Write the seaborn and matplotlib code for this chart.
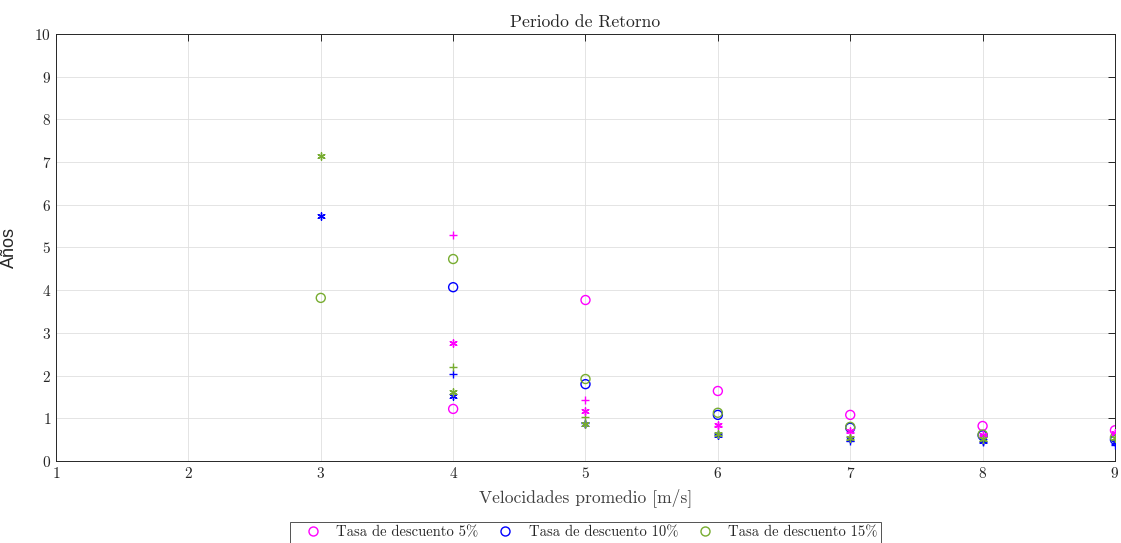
import numpy as np
import pandas as pd
import matplotlib
matplotlib.use('Agg')
import matplotlib.pyplot as plt
import seaborn as sns
from matplotlib.lines import Line2D

# velocidades promedio [m/s]
velocidades = [3, 4, 5, 6, 7, 8, 9]
tasas = ['Tasa de descuento 5%', 'Tasa de descuento 10%', 'Tasa de descuento 15%']
colores = ['#ff00ff', '#0000ff', '#77ac30']

# periodo de retorno [anos], tres casos por tasa (o, +, *)
ret_o_5 = [np.nan, 1.22, 3.77, 1.64, 1.08, 0.82, 0.72]
ret_o_10 = [np.nan, 4.07, 1.80, 1.08, 0.78, 0.60, 0.50]
ret_o_15 = [3.82, 4.73, 1.92, 1.13, 0.80, 0.62, 0.55]

ret_p_5 = [np.nan, 5.29, 1.43, 0.82, 0.68, 0.62, 0.65]
ret_p_10 = [np.nan, 2.04, 0.90, 0.60, 0.48, 0.45, 0.38]
ret_p_15 = [np.nan, 2.20, 1.02, 0.63, 0.52, 0.48, 0.50]

ret_s_5 = [np.nan, 2.76, 1.17, 0.84, 0.70, 0.60, 0.66]
ret_s_10 = [5.74, 1.52, 0.86, 0.62, 0.52, 0.48, 0.45]
ret_s_15 = [7.14, 1.62, 0.87, 0.64, 0.55, 0.52, 0.55]

sns.set_style('white')
plt.rcParams['font.family'] = 'cmr10'
plt.rcParams['mathtext.fontset'] = 'cm'
plt.rcParams['axes.formatter.use_mathtext'] = True

fig = plt.figure(figsize=(11.21, 5.43), dpi=100)
ax = fig.add_axes([0.05, 0.151, 0.9446, 0.7864])

asterisco = (6, 2, 0)
series = {
    'o': [ret_o_5, ret_o_10, ret_o_15],
    '+': [ret_p_5, ret_p_10, ret_p_15],
    '*': [ret_s_5, ret_s_10, ret_s_15],
}

for mk, vals in series.items():
    for tasa, col, v in zip(tasas, colores, vals):
        df = pd.DataFrame({'vel': velocidades, 'ret': v}).dropna()
        if mk == 'o':
            sns.scatterplot(data=df, x='vel', y='ret', ax=ax, marker='o', s=42,
                            facecolors='none', edgecolor=col, linewidth=1.0, zorder=3)
        elif mk == '+':
            sns.scatterplot(data=df, x='vel', y='ret', ax=ax, marker='+', s=40,
                            color=col, linewidth=1.0, zorder=3)
        else:
            sns.scatterplot(data=df, x='vel', y='ret', ax=ax, marker=asterisco, s=28,
                            color=col, edgecolor=col, linewidth=1.0, zorder=3)

ax.set_xlim(1, 9)
ax.set_ylim(0, 10)
ax.set_xticks(range(1, 10))
ax.set_yticks(range(0, 11))
ax.grid(True, color='#dfdfdf', linewidth=0.6)
ax.set_axisbelow(True)
for sp in ax.spines.values():
    sp.set_color('#262626')
    sp.set_linewidth(0.7)
ax.tick_params(direction='in', top=True, right=True, length=5, width=0.7,
               labelsize=11, colors='#262626')

ax.set_title('Periodo de Retorno', fontsize=12.7, color='#262626', pad=5)
ax.set_xlabel('Velocidades promedio [m/s]', fontsize=12.6, color='#404040', labelpad=5)
ax.set_ylabel('Años', fontsize=13, family=['Liberation Sans', 'DejaVu Sans'],
              color='#262626', labelpad=12)

handles = [Line2D([], [], linestyle='none', marker='o', markersize=6.5,
                  markerfacecolor='none', markeredgecolor=c, markeredgewidth=1.0)
           for c in colores]
leg = fig.legend(handles, tasas, loc='upper center', bbox_to_anchor=(0.522, 0.038),
                 ncol=3, frameon=True, fancybox=False, fontsize=10.5,
                 edgecolor='#262626', handlelength=2.78, handletextpad=0.2,
                 columnspacing=0.45, borderpad=0.22, borderaxespad=0,
                 labelcolor='#262626')
leg.get_frame().set_linewidth(0.7)

fig.savefig('out.png', dpi=100)
